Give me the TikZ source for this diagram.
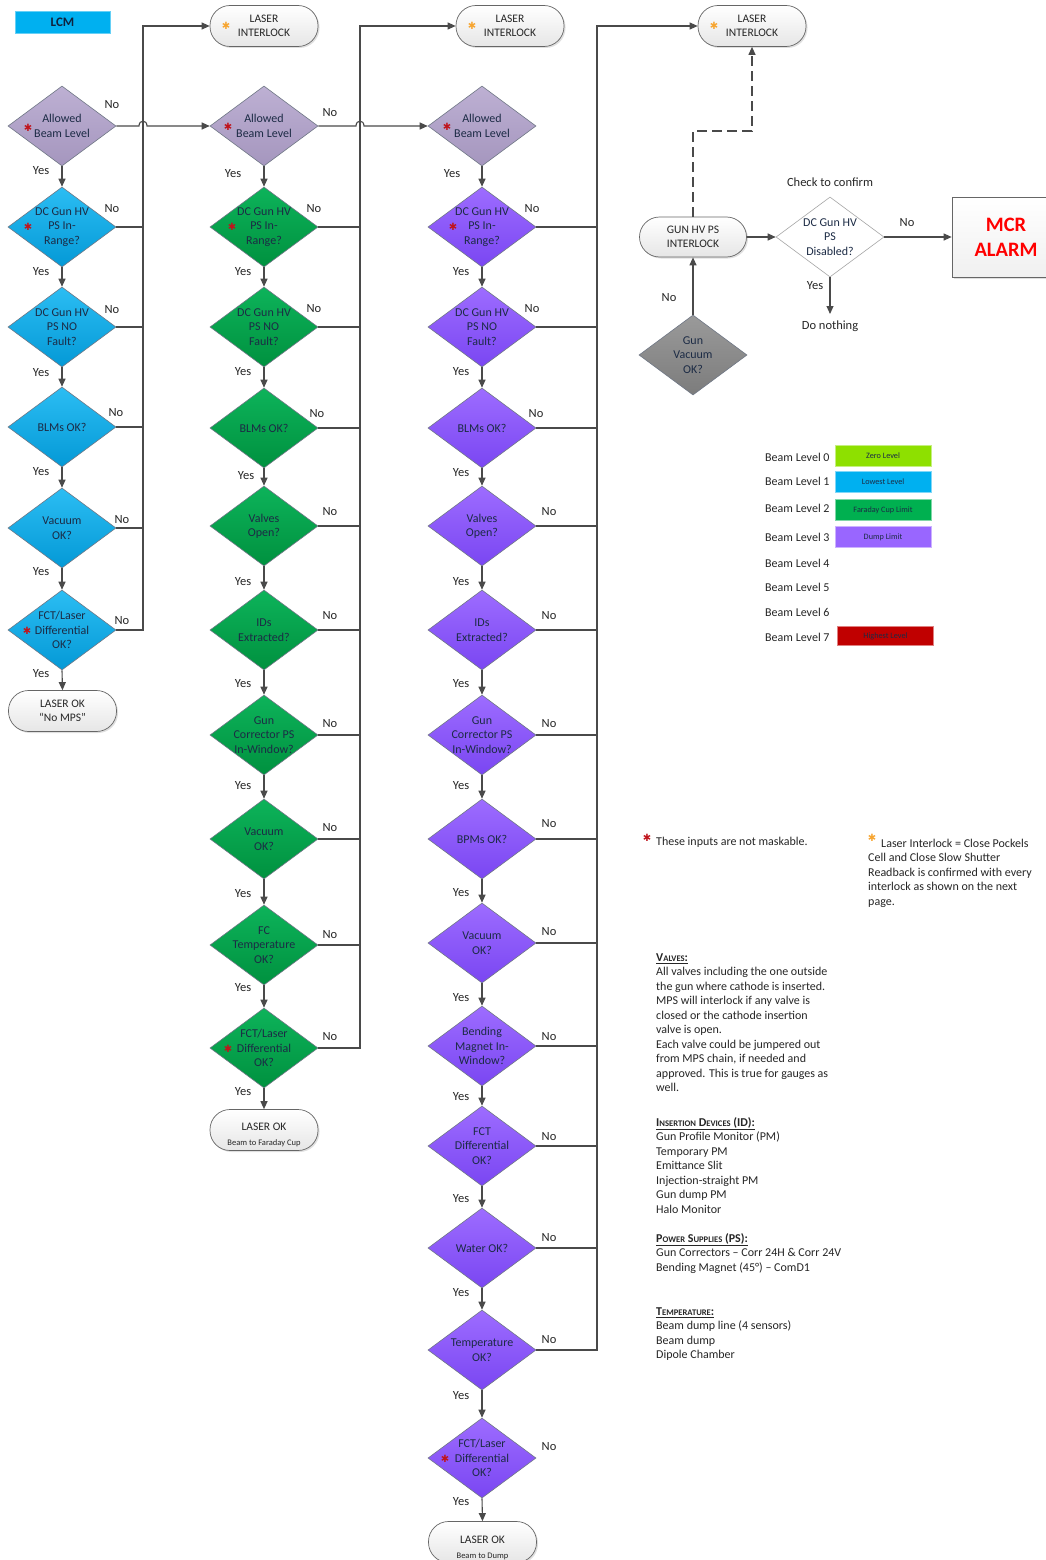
\documentclass[tikz,border=0pt]{standalone}
\usepackage{fontspec}
\setmainfont{Carlito}
\newfontfamily\djv{DejaVu Sans}
\usetikzlibrary{arrows.meta,shadows,shapes.geometric}
\definecolor{lc}{HTML}{4A4A4A}
\definecolor{db}{HTML}{6F7785}
\definecolor{dtc}{HTML}{1C2B45}
\definecolor{cyT}{HTML}{2BBDF3}
\definecolor{cyB}{HTML}{0499D6}
\definecolor{grT}{HTML}{0DB35A}
\definecolor{grB}{HTML}{00913F}
\definecolor{puT}{HTML}{9D6CFF}
\definecolor{puB}{HTML}{7A46F2}
\definecolor{alT}{HTML}{BDB0D3}
\definecolor{alB}{HTML}{A596BE}
\definecolor{gvT}{HTML}{9A9A9A}
\definecolor{gvB}{HTML}{7C7C7C}
\definecolor{astR}{HTML}{C0141C}
\definecolor{astO}{HTML}{F7A530}
\definecolor{lcmC}{HTML}{00B0F0}
\definecolor{lcmT}{HTML}{10233F}
\definecolor{lgZero}{HTML}{8EE000}
\definecolor{lgOne}{HTML}{00B0F0}
\definecolor{lgTwo}{HTML}{00B050}
\definecolor{lgThree}{HTML}{9966FF}
\definecolor{lgSeven}{HTML}{C00000}
\definecolor{txc}{HTML}{262626}
\definecolor{termB}{HTML}{E6E6E6}
\newcommand\smc[1]{{\fontsize{8.6}{10}\selectfont #1}}
\newcommand\hd[1]{\underline{\textbf{#1}}}
\newcommand\dia[5]{\node[dshape,#4] (#1) at (#2,#3) {};\node[dtext] (#1x) at (#1) {#5};}
\newcommand\rast[3]{\node[rastS] (#1) at (#2,#3) {✱};}
\newcommand\oast[3]{\node[oastS] (#1) at (#2,#3) {✱};}
\newcommand\yes[3]{\node[lbl] (#1) at (#2,#3) {Yes};}
\newcommand\no[3]{\node[lbl] (#1) at (#2,#3) {No};}
\begin{document}
\begin{tikzpicture}[x=1pt,y=-1pt,
  line/.style={draw=lc, line width=1.1pt},
  arr/.style={line, -{Triangle[length=8pt,width=7pt]}},
  dshape/.style={diamond, minimum width=108pt, minimum height=80pt, inner sep=0pt, draw=db, line width=0.6pt},
  dtext/.style={align=center, font=\fontsize{12}{14.4}\selectfont, text=dtc, inner sep=0pt},
  cyanD/.style={top color=cyT, bottom color=cyB},
  greenD/.style={top color=grT, bottom color=grB},
  purpD/.style={top color=puT, bottom color=puB},
  allD/.style={top color=alT, bottom color=alB},
  grayD/.style={top color=gvT, bottom color=gvB},
  whiteD/.style={fill=white, draw=gray!70},
  term/.style={rectangle, rounded corners=20pt, minimum width=108pt, minimum height=41pt, draw=gray!80!black, line width=0.7pt, top color=white, bottom color=termB, drop shadow={opacity=0.25, shadow xshift=1.5pt, shadow yshift=-1.5pt}, align=center, font=\fontsize{11.5}{14}\selectfont, text=txc, inner sep=0pt},
  ttext/.style={align=center, font=\fontsize{11.5}{14}\selectfont, text=txc, inner sep=0pt},
  lbl/.style={font=\fontsize{12.5}{14}\selectfont, text=txc, inner sep=0pt},
  rastS/.style={text=astR, font=\djv\fontsize{10}{10}\selectfont, inner sep=0pt},
  oastS/.style={text=astO, font=\djv\fontsize{10}{10}\selectfont, inner sep=0pt},
  legtxt/.style={anchor=west, font=\fontsize{12}{14}\selectfont, text=txc, inner sep=0pt},
  legbox/.style={rectangle, minimum width=96pt, minimum height=21pt, inner sep=0pt, font=\fontsize{8.2}{9}\selectfont, text=dtc},
  note/.style={anchor=north west, align=left, font=\fontsize{12}{14.5}\selectfont, text=txc, inner sep=0pt}
]
\useasboundingbox (0,0) rectangle (1046,1560);
\fill[white] (0,0) rectangle (1046,1560);

% LCM tag
\node[rectangle, fill=lcmC, draw=lcmC!60!white, minimum width=95pt, minimum height=22pt, inner sep=0pt, font=\fontsize{13}{15}\selectfont\bfseries, text=lcmT] (lcm) at (62.5,22) {LCM};

% Laser interlock terminators
\node[term] (LI1) at (264,26) {LASER\\INTERLOCK};
\node[term] (LI2) at (510,26) {LASER\\INTERLOCK};
\node[term] (LI3) at (752,26) {LASER\\INTERLOCK};
\oast{o1}{226}{26}
\oast{o2}{472}{26}
\oast{o3}{714}{26}

% ---------- Column 1 ----------
\dia{c1a}{62}{126}{allD}{Allowed\\Beam Level}
\dia{c1b}{62}{227}{cyanD}{DC Gun HV\\PS In-\\Range?}
\dia{c1c}{62}{327}{cyanD}{DC Gun HV\\PS NO\\Fault?}
\dia{c1d}{62}{427}{cyanD}{BLMs OK?}
\dia{c1e}{62}{528}{cyanD}{Vacuum\\OK?}
\dia{c1f}{62}{630}{cyanD}{FCT/Laser\\Differential\\OK?}
\node[term] (c1t) at (62.5,711) {LASER OK\\“No MPS”};
\rast{r1a}{28}{128}
\rast{r1b}{28}{227}
\rast{r1f}{27}{631}

\draw[arr] (c1a.south) -- (c1b.north);
\draw[arr] (c1b.south) -- (c1c.north);
\draw[arr] (c1c.south) -- (c1d.north);
\draw[arr] (c1d.south) -- (c1e.north);
\draw[arr] (c1e.south) -- (c1f.north);
\draw[arr] (c1f.south) -- (c1t.north);

\coordinate (b1) at (143,26);
\draw[arr] (c1f.east) -| (b1) -- (LI1.west);
\foreach \n in {c1b,c1c,c1d,c1e} \draw[line] (\n.east) -- (\n.east -| b1);

\yes{y1a}{41}{171}\yes{y1b}{41}{272}\yes{y1c}{41}{373}\yes{y1d}{41}{472}\yes{y1e}{41}{572}\yes{y1f}{41}{674}
\no{n1a}{112}{105}\no{n1b}{112}{209}\no{n1c}{112}{310}\no{n1d}{116}{413}\no{n1e}{122}{520}\no{n1f}{122}{621}

% ---------- Column 2 ----------
\dia{c2a}{264}{126}{allD}{Allowed\\Beam Level}
\dia{c2b}{264}{227}{greenD}{DC Gun HV\\PS In-\\Range?}
\dia{c2c}{264}{327}{greenD}{DC Gun HV\\PS NO\\Fault?}
\dia{c2d}{264}{428}{greenD}{BLMs OK?}
\dia{c2e}{264}{526}{greenD}{Valves\\Open?}
\dia{c2f}{264}{630}{greenD}{IDs\\Extracted?}
\dia{c2g}{264}{735}{greenD}{Gun\\Corrector PS\\In-Window?}
\dia{c2h}{264}{839}{greenD}{Vacuum\\OK?}
\dia{c2i}{264}{945}{greenD}{FC\\Temperature\\OK?}
\dia{c2j}{264}{1048}{greenD}{FCT/Laser\\Differential\\OK?}
\node[term] (c2t) at (264,1130) {};
\node[ttext] (c2tx) at (264,1135) {LASER OK\\[1pt]{\fontsize{8.5}{10}\selectfont Beam to Faraday Cup}};
\rast{r2a}{228}{127}
\rast{r2b}{232}{227}
\rast{r2j}{228}{1049}

\draw[arr] (c2a.south) -- (c2b.north);
\draw[arr] (c2b.south) -- (c2c.north);
\draw[arr] (c2c.south) -- (c2d.north);
\draw[arr] (c2d.south) -- (c2e.north);
\draw[arr] (c2e.south) -- (c2f.north);
\draw[arr] (c2f.south) -- (c2g.north);
\draw[arr] (c2g.south) -- (c2h.north);
\draw[arr] (c2h.south) -- (c2i.north);
\draw[arr] (c2i.south) -- (c2j.north);
\draw[arr] (c2j.south) -- (c2t.north);

\coordinate (b2) at (360,26);
\draw[arr] (c2j.east) -| (b2) -- (LI2.west);
\foreach \n in {c2b,c2c,c2d,c2e,c2f,c2g,c2h,c2i} \draw[line] (\n.east) -- (\n.east -| b2);

% allowed beam level chain with hops
\draw[arr] (c1a.east) -- (139,126) .. controls (139,119.5) and (147,119.5) .. (147,126) -- (c2a.west);

\yes{y2a}{233}{174}\yes{y2b}{243}{272}\yes{y2c}{243}{372}\yes{y2d}{246}{476}\yes{y2e}{243}{582}\yes{y2f}{243}{684}\yes{y2g}{243}{786}\yes{y2h}{243}{894}\yes{y2i}{243}{988}\yes{y2j}{243}{1092}
\no{n2a}{330}{113}\no{n2b}{314}{209}\no{n2c}{314}{309}\no{n2d}{317}{414}\no{n2e}{330}{512}\no{n2f}{330}{616}\no{n2g}{330}{724}\no{n2h}{330}{828}\no{n2i}{330}{935}\no{n2j}{330}{1037}

% ---------- Column 3 ----------
\dia{c3a}{482}{126}{allD}{Allowed\\Beam Level}
\dia{c3b}{482}{227}{purpD}{DC Gun HV\\PS In-\\Range?}
\dia{c3c}{482}{327}{purpD}{DC Gun HV\\PS NO\\Fault?}
\dia{c3d}{482}{428}{purpD}{BLMs OK?}
\dia{c3e}{482}{526}{purpD}{Valves\\Open?}
\dia{c3f}{482}{630}{purpD}{IDs\\Extracted?}
\dia{c3g}{482}{735}{purpD}{Gun\\Corrector PS\\In-Window?}
\dia{c3h}{482}{839}{purpD}{BPMs OK?}
\dia{c3i}{482}{943}{purpD}{Vacuum\\OK?}
\dia{c3j}{482}{1046}{purpD}{Bending\\Magnet In-\\Window?}
\dia{c3k}{482}{1146}{purpD}{FCT\\Differential\\OK?}
\dia{c3l}{482}{1248}{purpD}{Water OK?}
\dia{c3m}{482}{1350}{purpD}{Temperature\\OK?}
\dia{c3n}{482}{1458}{purpD}{FCT/Laser\\Differential\\OK?}
\node[term] (c3t) at (482.5,1542) {};
\node[ttext] (c3tx) at (482.5,1548) {LASER OK\\[1pt]{\fontsize{8.5}{10}\selectfont Beam to Dump}};
\rast{r3a}{447}{127}
\rast{r3b}{453}{227}
\rast{r3n}{445}{1459}

\draw[arr] (c3a.south) -- (c3b.north);
\draw[arr] (c3b.south) -- (c3c.north);
\draw[arr] (c3c.south) -- (c3d.north);
\draw[arr] (c3d.south) -- (c3e.north);
\draw[arr] (c3e.south) -- (c3f.north);
\draw[arr] (c3f.south) -- (c3g.north);
\draw[arr] (c3g.south) -- (c3h.north);
\draw[arr] (c3h.south) -- (c3i.north);
\draw[arr] (c3i.south) -- (c3j.north);
\draw[arr] (c3j.south) -- (c3k.north);
\draw[arr] (c3k.south) -- (c3l.north);
\draw[arr] (c3l.south) -- (c3m.north);
\draw[arr] (c3m.south) -- (c3n.north);
\draw[arr] (c3n.south) -- (c3t.north);

\coordinate (b3) at (597,26);
\draw[arr] (c3m.east) -| (b3) -- (LI3.west);
\foreach \n in {c3b,c3c,c3d,c3e,c3f,c3g,c3h,c3i,c3j,c3k,c3l} \draw[line] (\n.east) -- (\n.east -| b3);

\draw[arr] (c2a.east) -- (356,126) .. controls (356,119.5) and (364,119.5) .. (364,126) -- (c3a.west);

\yes{y3a}{452}{174}\yes{y3b}{461}{272}\yes{y3c}{461}{372}\yes{y3d}{461}{473}\yes{y3e}{461}{582}\yes{y3f}{461}{684}\yes{y3g}{461}{786}\yes{y3h}{461}{893}\yes{y3i}{461}{998}\yes{y3j}{461}{1097}\yes{y3k}{461}{1199}\yes{y3l}{461}{1293}\yes{y3m}{461}{1396}\yes{y3n}{461}{1502}
\no{n3b}{532}{209}\no{n3c}{532}{309}\no{n3d}{536}{414}\no{n3e}{549}{512}\no{n3f}{549}{616}\no{n3g}{549}{724}\no{n3h}{549}{824}\no{n3i}{549}{932}\no{n3j}{549}{1037}\no{n3k}{549}{1137}\no{n3l}{549}{1238}\no{n3m}{549}{1340}\no{n3n}{549}{1447}

% ---------- Gun HV PS branch ----------
\node[term, minimum width=107pt, minimum height=40pt] (ghv) at (693,237) {GUN HV PS\\INTERLOCK};
\dia{chk}{830}{237}{whiteD}{DC Gun HV\\PS\\Disabled?}
\dia{gvac}{693}{355}{grayD}{Gun\\Vacuum\\OK?}
\node[rectangle, minimum width=108pt, minimum height=80pt, draw=gray!80!black, line width=0.7pt, top color=white, bottom color=termB!60!white, drop shadow={opacity=0.25, shadow xshift=1.5pt, shadow yshift=-1.5pt}, align=center, font=\fontsize{20.5}{25}\selectfont\bfseries, text=red, inner sep=0pt] (mcr) at (1006,237) {MCR\\ALARM};
\node[lbl] (ctc) at (830,182) {Check to confirm};
\coordinate (dn) at (830,314);
\node[lbl] (dnt) at (830,326) {Do nothing};

\draw[arr] (ghv.east) -- (chk.west);
\draw[arr] (chk.east) -- (mcr.west);
\draw[arr] (chk.south) -- (dn);
\draw[arr] (gvac.north) -- (ghv.south);
\draw[arr, dash pattern=on 10pt off 5pt] (ghv.north) -- (693,131) -| (LI3.south);
\no{nchk}{907}{223}
\yes{ychk}{815}{286}
\no{ngv}{669}{298}

% ---------- Legend ----------
\node[legtxt] (l0) at (765,457) {Beam Level 0};
\node[legtxt] (l1) at (765,481) {Beam Level 1};
\node[legtxt] (l2) at (765,508) {Beam Level 2};
\node[legtxt] (l3) at (765,537) {Beam Level 3};
\node[legtxt] (l4) at (765,563) {Beam Level 4};
\node[legtxt] (l5) at (765,587) {Beam Level 5};
\node[legtxt] (l6) at (765,612) {Beam Level 6};
\node[legtxt] (l7) at (765,637) {Beam Level 7};
\node[legbox, fill=lgZero, draw=lgZero!50!white] (g0) at (883,456) {Zero Level};
\node[legbox, fill=lgOne, draw=lgOne!50!white] (g1) at (883,482) {Lowest Level};
\node[legbox, fill=lgTwo, draw=lgTwo!50!white] (g2) at (883,510) {Faraday Cup Limit};
\node[legbox, fill=lgThree, draw=lgThree!50!white] (g3) at (883,537) {Dump Limit};
\node[legbox, fill=lgSeven, draw=lgSeven!50!white, minimum height=19pt] (g7) at (885.5,636) {Highest Level};

% ---------- Notes ----------
\rast{nr}{647}{838}
\node[legtxt] (nrt) at (656,842) {These inputs are not maskable.};
\oast{nor}{872}{838}
\node[legtxt] (not1) at (881,843) {Laser Interlock = Close Pockels};
\node[note] (not2) at (868,851.5) {\strut Cell and Close Slow Shutter\\Readback is confirmed with every\\interlock as shown on the next\\page.};

\node[note] (nv) at (656,951) {\strut\hd{V\smc{ALVES}:}\\All valves including the one outside\\the gun where cathode is inserted.\\MPS will interlock if any valve is\\closed or the cathode insertion\\valve is open.\\Each valve could be jumpered out\\from MPS chain, if needed and\\approved. This is true for gauges as\\well.};
\node[note] (ni) at (656,1116) {\strut\hd{I\smc{NSERTION} D\smc{EVICES} (ID):}\\Gun Profile Monitor (PM)\\Temporary PM\\Emittance Slit\\Injection-straight PM\\Gun dump PM\\Halo Monitor};
\node[note] (np) at (656,1232) {\strut\hd{P\smc{OWER} S\smc{UPPLIES} (PS):}\\Gun Correctors – Corr 24H \& Corr 24V\\Bending Magnet (45°) – ComD1};
\node[note] (nt) at (656,1305) {\strut\hd{T\smc{EMPERATURE}:}\\Beam dump line (4 sensors)\\Beam dump\\Dipole Chamber};
\end{tikzpicture}
\end{document}
